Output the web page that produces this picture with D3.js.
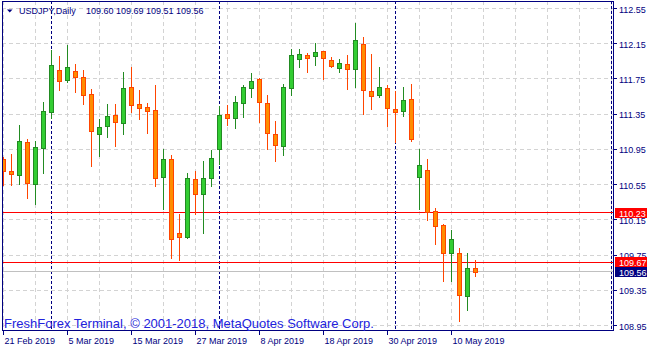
<!DOCTYPE html>
<html>
<head>
<meta charset="utf-8">
<script src="https://cdn.jsdelivr.net/npm/d3@7"></script>
<style>
  body { margin: 0; background: #fff; }
  svg { display: block; }
  text { font-family: "Liberation Sans", Arial, sans-serif; }
</style>
</head>
<body>
<svg id="chart" width="653" height="352"></svg>
<script>
"use strict";

var symbol = "USDJPY,Daily";
var watermark = "FreshForex Terminal, \u00A9 2001-2018, MetaQuotes Software Corp.";

var dates = ["2019-02-21","2019-02-22","2019-02-25","2019-02-26","2019-02-27","2019-02-28",
  "2019-03-01","2019-03-04","2019-03-05","2019-03-06","2019-03-07","2019-03-08",
  "2019-03-11","2019-03-12","2019-03-13","2019-03-14","2019-03-15",
  "2019-03-18","2019-03-19","2019-03-20","2019-03-21","2019-03-22",
  "2019-03-25","2019-03-26","2019-03-27","2019-03-28","2019-03-29",
  "2019-04-01","2019-04-02","2019-04-03","2019-04-04","2019-04-05",
  "2019-04-08","2019-04-09","2019-04-10","2019-04-11","2019-04-12",
  "2019-04-15","2019-04-16","2019-04-17","2019-04-18","2019-04-19",
  "2019-04-22","2019-04-23","2019-04-24","2019-04-25","2019-04-26",
  "2019-04-29","2019-04-30","2019-05-01","2019-05-02","2019-05-03",
  "2019-05-06","2019-05-07","2019-05-08","2019-05-09","2019-05-10",
  "2019-05-13","2019-05-14","2019-05-15"];

var open = [110.84,110.70,110.65,111.03,110.55,110.96,111.37,111.85,111.73,111.83,
  111.77,111.57,111.12,111.21,111.34,111.24,111.65,111.46,111.43,111.39,
  110.62,110.84,110.00,109.95,110.61,110.44,110.62,110.95,111.35,111.30,
  111.47,111.64,111.74,111.47,111.12,110.98,111.64,111.97,112.02,112.00,
  112.06,111.96,111.87,111.91,111.86,112.14,111.61,111.56,111.64,111.40,
  111.38,111.52,110.63,110.71,110.25,110.08,109.77,109.77,109.28,109.60];

var high = [110.86,110.90,111.23,111.07,111.05,111.49,112.08,112.01,112.13,111.92,
  111.85,111.64,111.30,111.46,111.46,111.83,111.89,111.62,111.48,111.68,
  110.95,110.89,110.22,110.68,110.70,110.82,110.94,111.44,111.45,111.56,
  111.68,111.82,111.76,111.57,111.27,111.69,112.09,112.09,112.04,112.16,
  112.07,112.00,111.98,112.02,112.39,112.23,112.03,111.89,111.68,111.61,
  111.66,111.69,110.95,110.84,110.28,110.10,110.04,109.83,109.77,109.69];

var low = [110.55,110.54,110.56,110.40,110.33,110.68,111.31,111.62,111.71,111.60,
  111.46,110.76,110.87,111.09,110.99,111.13,111.37,111.29,111.14,110.53,
  110.27,109.72,109.69,109.94,110.22,110.00,110.53,110.78,111.23,111.19,
  111.32,111.54,111.26,110.96,110.82,110.89,111.57,111.88,111.83,111.91,
  111.75,111.88,111.83,111.64,111.66,111.35,111.41,111.54,111.22,111.03,
  111.33,111.05,110.27,110.15,109.88,109.45,109.45,109.00,109.13,109.51];

var close = [110.70,110.67,111.04,110.56,110.97,111.38,111.90,111.73,111.88,111.76,
  111.56,111.15,111.20,111.32,111.26,111.64,111.44,111.41,111.38,110.62,
  110.83,109.93,109.96,110.62,110.44,110.62,110.85,111.34,111.31,111.48,
  111.65,111.72,111.48,111.13,111.00,111.65,112.02,112.03,111.99,112.05,
  111.98,111.89,111.93,111.85,112.19,111.62,111.55,111.65,111.41,111.37,
  111.50,111.07,110.77,110.23,110.08,109.76,109.93,109.29,109.60,109.56];

var priceTicks = [112.55, 112.15, 111.75, 111.35, 110.95, 110.55, 110.15, 109.75, 109.35, 108.95];
var separators = [6, 27, 49, 76];   // séparateurs de mois (indices de barres)
var redLines = [110.23, 109.67];
var bidPrice = 109.56;

var nav = "#000080";
var plot = { left: 2, top: 1, right: 613, bottom: 330 };

var svg = d3.select("#chart");

var x = d3.scaleLinear().domain([0, 76]).range([3.5, 611.5]);
var y = d3.scaleLinear().domain([108.95, 112.55]).range([325.5, 8.5]);
function crisp(v) { return Math.floor(v) + 0.5; }

var bars = dates.map(function(d, i) {
  return { date: d3.timeParse("%Y-%m-%d")(d), i: i, o: open[i], h: high[i], l: low[i], c: close[i] };
});

svg.append("defs").append("clipPath").attr("id", "clip")
  .append("rect")
  .attr("x", plot.left + 1).attr("y", plot.top + 1)
  .attr("width", plot.right - plot.left - 1).attr("height", plot.bottom - plot.top - 1);

var g = svg.append("g").attr("clip-path", "url(#clip)");

// grille horizontale
g.selectAll(".hgrid").data(priceTicks).enter().append("line")
  .attr("x1", plot.left).attr("x2", plot.right)
  .attr("y1", function(d) { return crisp(y(d)); })
  .attr("y2", function(d) { return crisp(y(d)); })
  .attr("stroke", "#d3d3d3").attr("stroke-dasharray", "4,3");

// grille verticale, toutes les 4 barres
g.selectAll(".vgrid").data(d3.range(0, 77, 4)).enter().append("line")
  .attr("x1", function(d) { return x(d); }).attr("x2", function(d) { return x(d); })
  .attr("y1", plot.top).attr("y2", plot.bottom)
  .attr("stroke", "#d3d3d3").attr("stroke-dasharray", "4,3");

// séparateurs de périodes
g.selectAll(".sep").data(separators).enter().append("line")
  .attr("x1", function(d) { return x(d); }).attr("x2", function(d) { return x(d); })
  .attr("y1", plot.top).attr("y2", plot.bottom)
  .attr("stroke", nav).attr("stroke-dasharray", "3,2");

// lignes de prix
g.append("line")
  .attr("x1", plot.left).attr("x2", plot.right)
  .attr("y1", crisp(y(bidPrice))).attr("y2", crisp(y(bidPrice)))
  .attr("stroke", "#c0c0c0");
g.selectAll(".red").data(redLines).enter().append("line")
  .attr("x1", plot.left).attr("x2", plot.right)
  .attr("y1", function(d) { return crisp(y(d)); })
  .attr("y2", function(d) { return crisp(y(d)); })
  .attr("stroke", "#ff0000");

// chandeliers
var candle = g.selectAll(".candle").data(bars).enter().append("g").attr("class", "candle");
candle.append("line")
  .attr("x1", function(d) { return x(d.i); }).attr("x2", function(d) { return x(d.i); })
  .attr("y1", function(d) { return Math.round(y(d.h)); })
  .attr("y2", function(d) { return Math.round(y(d.l)) + 1; })
  .attr("stroke", function(d) { return d.c >= d.o ? "#228b22" : "#ff4500"; });
candle.append("rect")
  .attr("x", function(d) { return x(d.i) - 2; })
  .attr("width", 4)
  .attr("y", function(d) { return crisp(y(Math.max(d.o, d.c))); })
  .attr("height", function(d) { return Math.max(1, Math.round(Math.abs(y(d.o) - y(d.c)))); })
  .attr("fill", function(d) { return d.c >= d.o ? "#32cd32" : "#ff8c00"; })
  .attr("stroke", function(d) { return d.c >= d.o ? "#228b22" : "#ff4500"; });

// cadre
svg.append("rect")
  .attr("x", plot.left + 0.5).attr("y", plot.top + 0.5)
  .attr("width", plot.right - plot.left).attr("height", plot.bottom - plot.top)
  .attr("fill", "none").attr("stroke", nav);

// axe des prix
svg.selectAll(".ptick").data(priceTicks).enter().append("line")
  .attr("x1", plot.right + 0.5).attr("x2", plot.right + 4)
  .attr("y1", function(d) { return crisp(y(d)); })
  .attr("y2", function(d) { return crisp(y(d)); })
  .attr("stroke", nav);
svg.selectAll(".plabel").data(priceTicks).enter().append("text")
  .attr("x", 619).attr("y", function(d) { return y(d) + 4; })
  .attr("font-size", "9px").attr("fill", nav)
  .text(function(d) { return d.toFixed(2); });

// étiquettes de prix courantes
var tags = redLines.map(function(p) { return { p: p, bg: "#ff0000" }; })
  .concat([{ p: bidPrice, bg: nav }]);
var tag = svg.selectAll(".tag").data(tags).enter().append("g");
tag.append("rect")
  .attr("x", 615).attr("width", 32)
  .attr("y", function(d) { return Math.round(y(d.p)) - 5; })
  .attr("height", 10)
  .attr("fill", function(d) { return d.bg; });
tag.append("text")
  .attr("x", 619).attr("y", function(d) { return Math.round(y(d.p)) + 4; })
  .attr("font-size", "9px").attr("fill", "#fff")
  .text(function(d) { return d.p.toFixed(2); });

// axe des dates
var fmt = d3.timeFormat("%-d %b %Y");
var dateTicks = bars.filter(function(d) { return d.i % 8 === 0; });
svg.selectAll(".dtick").data(dateTicks).enter().append("line")
  .attr("x1", function(d) { return x(d.i); }).attr("x2", function(d) { return x(d.i); })
  .attr("y1", plot.bottom + 1).attr("y2", plot.bottom + 5)
  .attr("stroke", nav);
svg.selectAll(".dlabel").data(dateTicks).enter().append("text")
  .attr("x", function(d) { return x(d.i) + 1; }).attr("y", 344)
  .attr("font-size", "9px").attr("fill", nav)
  .text(function(d) { return fmt(d.date); });

// titre
var last = bars[bars.length - 1];
svg.append("path").attr("d", "M7,9.5L12.5,9.5L9.75,12.5Z").attr("fill", nav);
svg.append("text").attr("x", 19).attr("y", 13.5)
  .attr("font-size", "9px").attr("fill", nav).text(symbol);
svg.append("text").attr("x", 86).attr("y", 13.5)
  .attr("font-size", "9px").attr("fill", nav)
  .text([last.o, last.h, last.l, last.c].map(function(v) { return v.toFixed(2); }).join(" "));

// filigrane
svg.append("text").attr("x", 4).attr("y", 328)
  .attr("font-size", "13px").attr("fill", "#2222dd").text(watermark);
</script>
</body>
</html>
